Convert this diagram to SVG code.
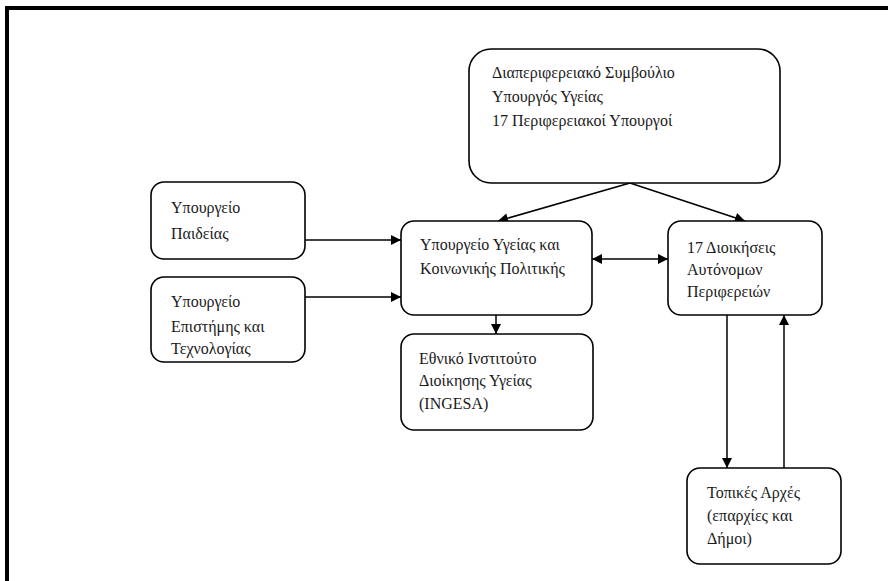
<svg xmlns="http://www.w3.org/2000/svg" width="888" height="581" viewBox="0 0 888 581">
  <style>
    .box { fill: #ffffff; stroke: #000000; stroke-width: 1.6; }
    .lbl { font-family: "Liberation Serif", "Times New Roman", serif; font-size: 16px; fill: #1a1a1a; }
    .edge { fill: none; stroke: #000000; stroke-width: 1.5; }
    .frame { fill: none; stroke: #000000; stroke-width: 4; }
  </style>
  <defs>
    <marker id="arrow" viewBox="0 0 10 10" refX="10" refY="5" markerWidth="11" markerHeight="10" markerUnits="userSpaceOnUse" orient="auto-start-reverse">
      <path d="M0,0 L10,5 L0,10 Z" fill="#000000"/>
    </marker>
  </defs>

  <rect width="888" height="581" fill="#ffffff"/>
  <!-- page frame -->
  <path class="frame" d="M7,581 L7,8 L888,8"/>

  <g id="connectors">
    <line class="edge" x1="630" y1="183" x2="498" y2="221" marker-end="url(#arrow)"/>
    <line class="edge" x1="630" y1="183" x2="745" y2="221" marker-end="url(#arrow)"/>
    <line class="edge" x1="305" y1="240" x2="401" y2="240" marker-end="url(#arrow)"/>
    <line class="edge" x1="305" y1="297" x2="401" y2="297" marker-end="url(#arrow)"/>
    <line class="edge" x1="592" y1="259" x2="668" y2="259" marker-start="url(#arrow)" marker-end="url(#arrow)"/>
    <line class="edge" x1="496" y1="315" x2="496" y2="334" marker-end="url(#arrow)"/>
    <line class="edge" x1="727" y1="315" x2="727" y2="468" marker-end="url(#arrow)"/>
    <line class="edge" x1="784" y1="468" x2="784" y2="315" marker-end="url(#arrow)"/>
  </g>

  <g id="council">
    <rect class="box" x="469" y="49" width="311" height="134" rx="22"/>
    <text class="lbl" x="492" y="78">Διαπεριφερειακό Συμβούλιο</text>
    <text class="lbl" x="492" y="102">Υπουργός Υγείας</text>
    <text class="lbl" x="492" y="126">17 Περιφερειακοί Υπουργοί</text>
  </g>

  <g id="education">
    <rect class="box" x="151" y="182" width="154" height="77" rx="13"/>
    <text class="lbl" x="171" y="213">Υπουργείο</text>
    <text class="lbl" x="171" y="239">Παιδείας</text>
  </g>

  <g id="science">
    <rect class="box" x="151" y="277" width="154" height="85" rx="13"/>
    <text class="lbl" x="171" y="307">Υπουργείο</text>
    <text class="lbl" x="171" y="332">Επιστήμης και</text>
    <text class="lbl" x="171" y="354">Τεχνολογίας</text>
  </g>

  <g id="health">
    <rect class="box" x="401" y="221" width="191" height="94" rx="13"/>
    <text class="lbl" x="420" y="250">Υπουργείο Υγείας και</text>
    <text class="lbl" x="420" y="274">Κοινωνικής Πολιτικής</text>
  </g>

  <g id="regions">
    <rect class="box" x="668" y="221" width="154" height="94" rx="13"/>
    <text class="lbl" x="687" y="253">17 Διοικήσεις</text>
    <text class="lbl" x="687" y="275">Αυτόνομων</text>
    <text class="lbl" x="687" y="297">Περιφερειών</text>
  </g>

  <g id="ingesa">
    <rect class="box" x="401" y="334" width="192" height="96" rx="13"/>
    <text class="lbl" x="419" y="364">Εθνικό Ινστιτούτο</text>
    <text class="lbl" x="419" y="386">Διοίκησης Υγείας</text>
    <text class="lbl" x="419" y="409">(INGESA)</text>
  </g>

  <g id="local">
    <rect class="box" x="687" y="468" width="154" height="96" rx="13"/>
    <text class="lbl" x="707" y="498">Τοπικές Αρχές</text>
    <text class="lbl" x="707" y="521">(επαρχίες και</text>
    <text class="lbl" x="707" y="544">Δήμοι)</text>
  </g>
</svg>
